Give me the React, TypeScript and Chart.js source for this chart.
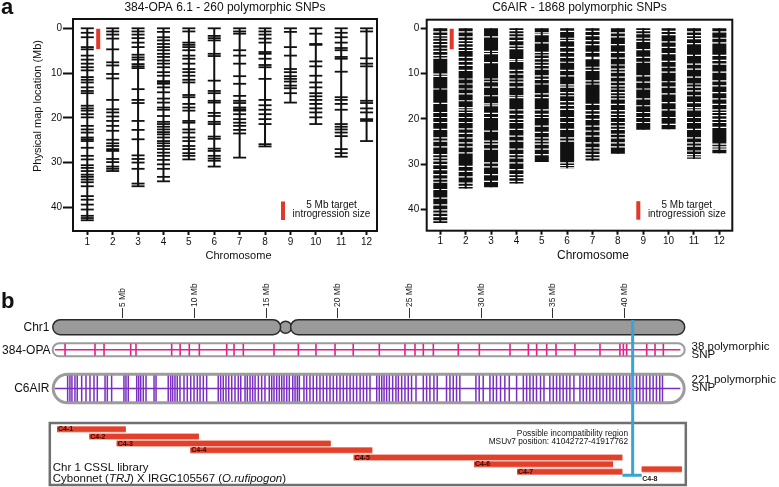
import React, { useEffect, useRef } from "react";
import { Chart, registerables } from "chart.js";

Chart.register(...registerables);

const FONT = "'Liberation Sans', Arial, Helvetica, sans-serif";
const INK = "#111111";
const TARGET_RED = "#e2382a";
const CSSL_RED = "#e3402c";
const CSSL_EDGE = "#f19a8c";
const OPA_MAGENTA = "#e0218a";
const C6AIR_PURPLE = "#7a2fc0";
const MARKER_BLUE = "#38a3d6";
const CAPSULE_GREY = "#9c9c9c";

// ---------------- Panel a ----------------
const CHROMOSOMES = [1, 2, 3, 4, 5, 6, 7, 8, 9, 10, 11, 12];
const MAP_TICKS_MB = [0, 10, 20, 30, 40];
const TARGET_SPAN_MB = [0.1, 4.6];

// 384-OPA 6.1 polymorphic SNP positions (Mb) per chromosome
const OPA_CHR1 = [0, 1.0, 2.0, 4.2, 4.7, 6.1, 7.0, 7.9, 8.7, 9.4, 10.9, 11.5, 12.1, 13.2, 14.0, 14.5, 17.3, 17.9, 18.4, 19.2, 19.9, 21.8, 22.6, 23.3, 24.4, 24.8, 25.2, 26.7, 28.5, 29.3, 30.6, 31.2, 31.9, 32.7, 33.2, 33.8, 34.4, 35.3, 37.5, 38.3, 39.4, 40.5, 41.9, 42.4, 42.9];
const OPA_CHR2 = [0, 0.7, 1.4, 2.3, 4.7, 7.6, 8.3, 10.2, 11.2, 16.0, 18.1, 18.8, 19.7, 20.7, 21.8, 22.9, 24.9, 25.7, 26.3, 27.0, 27.4, 29.2, 29.9, 30.9, 31.4, 31.9];
const OPA_CHR3 = [0, 0.7, 1.4, 2.2, 3.2, 4.2, 5.9, 6.5, 7.0, 8.0, 8.5, 8.9, 13.6, 16.0, 16.7, 20.7, 22.7, 24.8, 28.4, 29.2, 30.0, 31.4, 34.7, 35.3];
const OPA_CHR4 = [0, 0.8, 2.0, 2.7, 3.5, 4.2, 4.9, 5.7, 6.4, 7.2, 7.9, 8.7, 9.8, 10.6, 11.8, 12.0, 12.4, 13.2, 14.3, 15.7, 16.6, 17.7, 18.2, 19.6, 20.9, 21.4, 22.0, 22.6, 23.2, 23.7, 24.4, 25.2, 25.7, 26.3, 27.0, 27.8, 28.5, 29.4, 30.4, 31.4, 33.2, 34.2];
const OPA_CHR5 = [0, 0.7, 3.2, 3.7, 4.2, 4.9, 6.1, 6.8, 7.9, 9.1, 9.8, 10.6, 11.5, 12.1, 14.9, 15.4, 16.9, 17.7, 18.4, 20.7, 21.1, 22.6, 23.3, 24.4, 25.2, 26.3, 27.0, 27.9, 28.5, 29.3];
const OPA_CHR6 = [0, 1.7, 2.2, 2.7, 5.7, 6.2, 11.7, 14.0, 14.5, 16.2, 16.6, 18.9, 19.6, 20.9, 21.4, 24.2, 24.7, 26.9, 27.4, 28.5, 29.1, 29.6, 30.9];
const OPA_CHR7 = [0, 0.7, 1.2, 4.9, 6.1, 7.9, 10.7, 12.4, 15.1, 16.2, 16.7, 17.7, 18.1, 18.4, 19.2, 20.3, 21.1, 21.8, 22.7, 23.5, 28.9];
const OPA_CHR8 = [0, 0.7, 1.4, 2.3, 3.2, 5.3, 5.7, 6.8, 8.2, 8.7, 11.3, 16.0, 17.2, 18.2, 19.2, 20.3, 21.4, 25.9, 26.4];
const OPA_CHR9 = [0, 0.8, 4.2, 6.1, 9.1, 9.8, 10.7, 11.3, 11.9, 12.8, 13.4, 14.5, 16.6];
const OPA_CHR10 = [0, 1.2, 3.5, 3.7, 7.4, 8.5, 10.6, 12.1, 13.2, 14.5, 15.2, 16.0, 16.9, 17.9, 18.8, 19.9, 21.4];
const OPA_CHR11 = [0, 1.0, 2.0, 3.2, 4.4, 4.9, 6.4, 6.8, 9.7, 15.4, 16.0, 16.9, 18.2, 21.4, 22.0, 22.6, 23.3, 24.1, 27.0, 27.9, 28.7];
const OPA_CHR12 = [0, 0.7, 6.7, 7.9, 8.5, 16.2, 16.7, 17.9, 18.8, 20.3, 20.7, 25.2];
const OPA_SNPS = [OPA_CHR1, OPA_CHR2, OPA_CHR3, OPA_CHR4, OPA_CHR5, OPA_CHR6, OPA_CHR7, OPA_CHR8, OPA_CHR9, OPA_CHR10, OPA_CHR11, OPA_CHR12];

// C6AIR: SNPs are so dense that each chromosome reads as a solid block;
// the block ends and the SNP-free gaps (white stripes) are listed.
const C6AIR_END_MB = [43.0, 35.4, 35.1, 34.3, 29.5, 30.9, 29.2, 27.7, 22.4, 22.3, 28.8, 27.6];
const C6AIR_GAPS_CHR1 = [0.8, 1.6, 2.2, 2.9, 3.6, 4.4, 5.1, 6.0, 6.6, 10.1, 10.6, 13.4, 16.6, 18.6, 19.7, 20.8, 22.3, 24.2, 24.9, 26.2, 27.9, 28.6, 29.3, 30.1, 31.2, 32.3, 33.3, 34.0, 35.6, 37.5, 39.0, 40.1, 40.8, 41.6, 42.5];
const C6AIR_GAPS_CHR2 = [0.8, 1.9, 2.7, 3.4, 4.2, 4.9, 6.4, 7.3, 8.2, 9.3, 11.2, 12.3, 13.4, 14.5, 16.0, 17.5, 18.0, 18.6, 19.7, 20.8, 22.2, 23.2, 24.2, 25.3, 26.2, 27.5, 30.5, 31.6, 32.8, 34.2, 34.9];
const C6AIR_GAPS_CHR3 = [1.9, 5.1, 5.6, 7.6, 11.2, 11.8, 13.0, 14.9, 16.7, 17.1, 18.8, 19.7, 22.7, 24.9, 25.6, 26.7, 29.7, 30.6, 32.3, 33.8];
const C6AIR_GAPS_CHR4 = [0.5, 1.2, 1.9, 2.7, 3.9, 4.5, 6.9, 7.3, 9.3, 10.1, 11.2, 11.9, 13.0, 14.9, 15.3, 18.0, 19.0, 20.1, 20.8, 22.3, 23.8, 24.9, 26.7, 27.9, 28.6, 29.7, 31.2, 32.3, 33.0, 33.8];
const C6AIR_GAPS_CHR5 = [1.0, 1.4, 3.2, 5.3, 5.9, 6.7, 7.5, 8.2, 9.0, 10.5, 11.3, 12.3, 14.5, 15.3, 18.0, 19.0, 19.7, 21.6, 23.0, 24.2, 24.9, 25.6, 26.7, 27.9];
const C6AIR_GAPS_CHR6 = [0.7, 2.2, 2.7, 4.2, 5.3, 6.4, 7.5, 9.3, 10.5, 12.5, 13.0, 14.2, 14.9, 16.2, 17.0, 17.9, 19.7, 20.8, 22.3, 24.2, 24.9, 29.7, 30.3, 30.8];
const C6AIR_GAPS_CHR7 = [0.7, 1.6, 2.7, 3.6, 5.3, 6.4, 6.7, 8.6, 9.3, 11.6, 12.3, 16.8, 18.2, 19.0, 20.1, 21.6, 22.7, 23.8, 25.3, 26.4, 27.1, 27.9, 28.6];
const C6AIR_GAPS_CHR8 = [1.0, 1.9, 3.6, 5.3, 6.6, 8.1, 9.0, 9.7, 10.8, 11.9, 12.7, 13.4, 14.2, 14.9, 15.6, 16.8, 18.2, 19.0, 19.7, 20.8, 21.6, 22.3, 23.4, 24.2, 25.3, 26.2];
const C6AIR_GAPS_CHR9 = [0.5, 1.2, 2.2, 2.9, 4.7, 6.4, 7.5, 10.5, 11.9, 13.4, 15.6, 17.1, 18.6, 19.7, 20.8];
const C6AIR_GAPS_CHR10 = [0.7, 1.4, 3.0, 4.2, 5.6, 7.3, 8.6, 9.7, 11.8, 13.0, 14.5, 16.4, 18.0, 19.7, 21.2];
const C6AIR_GAPS_CHR11 = [0.8, 1.6, 2.3, 3.4, 6.0, 7.9, 9.0, 10.8, 12.3, 13.0, 13.8, 14.9, 16.4, 17.5, 18.0, 19.7, 20.8, 22.3, 24.2, 25.3, 26.0, 27.1, 27.9, 28.4];
const C6AIR_GAPS_CHR12 = [0.8, 2.2, 3.2, 6.0, 7.1, 7.9, 9.7, 11.6, 12.7, 14.2, 15.6, 16.8, 18.0, 18.6, 19.3, 20.1, 20.8, 21.9, 25.6, 26.2, 26.7];
const C6AIR_GAPS = [C6AIR_GAPS_CHR1, C6AIR_GAPS_CHR2, C6AIR_GAPS_CHR3, C6AIR_GAPS_CHR4, C6AIR_GAPS_CHR5, C6AIR_GAPS_CHR6, C6AIR_GAPS_CHR7, C6AIR_GAPS_CHR8, C6AIR_GAPS_CHR9, C6AIR_GAPS_CHR10, C6AIR_GAPS_CHR11, C6AIR_GAPS_CHR12];

// ---------------- Panel b ----------------
const CHR1_LENGTH_MB = 44.2;
const CHR1_CENTROMERE_MB = 16.35;
const MB_TICKS = [5, 10, 15, 20, 25, 30, 35, 40];
const SNP_TRACK_SPAN_MB = [0.25, 43.9];
const OPA_CHR1_SNPS_MB = [0.96, 3.05, 3.68, 5.54, 5.91, 8.4, 8.99, 9.63, 10.33, 12.24, 12.75, 13.4, 15.54, 17.24, 18.47, 19.8, 21.07, 22.89, 24.68, 25.38, 25.96, 26.66, 28.4, 29.87, 32.01, 33.29, 33.87, 34.57, 35.22, 36.54, 38.29, 39.68, 39.92, 40.15, 41.55, 42.13, 42.71];
const C6AIR_CHR1_SNPS_MB = [
  1.14, 1.3, 1.44, 1.65, 1.81, 2.12, 2.42, 2.7, 2.98, 3.21, 3.75, 3.91, 4.21, 5.07, 5.21, 5.37,
  5.96, 6.1, 6.24, 6.42, 6.61, 7.17, 7.31, 8.16, 8.33, 8.47, 8.63, 8.79, 8.98,
  9.26, 9.49, 9.73, 9.96, 10.19, 10.38, 10.61, 10.84, 11.65, 11.82, 12.0, 12.19, 12.38, 12.59, 12.82, 13.05, 13.22,
  13.52, 13.68, 13.87, 14.05, 14.22, 14.45, 14.68, 14.91, 15.21, 15.38, 15.54, 15.73, 15.91, 16.08, 16.24, 16.43, 16.61, 16.85, 17.01, 17.17, 17.31,
  17.63, 17.82, 18.05, 18.28, 18.52, 18.75, 18.98, 19.22, 19.45, 19.68, 19.92, 20.15, 20.38, 20.62, 20.85, 21.08, 21.31, 21.55, 21.78, 22.01, 22.24,
  22.71, 22.89, 23.06, 23.22, 23.4, 23.59, 23.82, 24.05, 24.22, 24.45, 24.68, 24.91, 25.14, 25.45, 25.96, 26.19, 26.42, 26.7, 26.93,
  27.58, 27.82, 28.05, 28.28, 28.51, 29.63, 29.86, 30.14, 30.61, 30.84, 31.07, 31.35, 31.65, 31.96, 32.47,
  32.94, 33.17, 33.4, 33.63, 33.86, 34.14, 34.38, 34.79, 35.03, 35.26, 35.49, 35.72, 35.96, 36.19, 36.47,
  36.89, 37.12, 37.35, 37.58, 37.82, 38.05, 38.28, 38.51, 38.75, 38.98, 39.21, 39.44, 39.67, 39.91, 40.14, 40.37, 40.6, 40.84, 41.07, 41.3, 41.53, 41.77, 42.0, 42.23, 42.46, 42.65,
];
const CSSL_LINES = ["C4-1", "C4-2", "C4-3", "C4-4", "C4-5", "C4-6", "C4-7", "C4-8"];
const CSSL_START_MB = [0.4, 2.65, 4.56, 9.7, 21.1, 29.5, 32.5, 41.2];
const CSSL_END_MB = [5.2, 10.3, 19.5, 22.4, 39.85, 39.2, 39.85, 44.0];
const INCOMPAT_MB = 40.57;
const INCOMPAT_BRACKET_MB = [39.85, 41.2];

// ---------------- layout (not data) ----------------
const C_TOP = 280; // page y of the bottom canvas
const ROW = {
  chr1: 9.2,
  opa: 31.8,
  c6air: 70.5,
  markerTop: 2,
  markerBottom: 157.3,
  cssl: [111.2, 118.5, 125.5, 132.2, 139.5, 146.2, 153.7, 151.2],
};

function genomePanel(p: any) {
  const decor = {
    id: "panelDecor",
    afterDraw(chart: any) {
      const { ctx, chartArea: a } = chart;
      ctx.save();
      ctx.strokeStyle = INK;
      ctx.lineWidth = 2;
      ctx.strokeRect(a.left, a.top, a.right - a.left, a.bottom - a.top);
      ctx.fillStyle = INK;
      ctx.textAlign = "center";
      ctx.textBaseline = "middle";
      ctx.font = `12px ${FONT}`;
      ctx.fillText(p.title, (a.left + a.right) / 2, 7.5);
      ctx.font = `${p.xTitleSize}px ${FONT}`;
      ctx.fillText("Chromosome", (a.left + a.right) / 2 + 13.5, 256);
      if (p.yTitle) {
        ctx.save();
        ctx.translate(38, 106);
        ctx.rotate(-Math.PI / 2);
        ctx.font = `11px ${FONT}`;
        ctx.fillText(p.yTitle, 0, 0);
        ctx.restore();
      }
      ctx.fillStyle = TARGET_RED;
      ctx.fillRect(a.right - 96, a.bottom - 29.5, 4, 18.5);
      ctx.fillStyle = INK;
      ctx.font = `10px ${FONT}`;
      ctx.fillText("5 Mb target", a.right - 45.5, a.bottom - 25.3);
      ctx.fillText("introgression size", a.right - 45.5, a.bottom - 16.7);
      if (p.letter) {
        ctx.font = `bold 22px ${FONT}`;
        ctx.textAlign = "left";
        ctx.textBaseline = "alphabetic";
        ctx.fillText(p.letter, 1, 13.5);
      }
      ctx.restore();
    },
  };
  return {
    type: "scatter",
    data: { datasets: p.datasets },
    options: {
      responsive: false,
      animation: false,
      devicePixelRatio: 1,
      events: [],
      layout: { padding: p.padding, autoPadding: false },
      plugins: { legend: { display: false }, tooltip: { enabled: false } },
      scales: {
        x: {
          type: "linear",
          min: p.xMin,
          max: p.xMax,
          afterBuildTicks: (s: any) => {
            s.ticks = CHROMOSOMES.map((v) => ({ value: v }));
          },
          afterFit: (s: any) => {
            s.height = p.xHeight;
          },
          border: { display: false },
          grid: { drawOnChartArea: false, drawTicks: true, tickLength: 4, tickWidth: 2, tickColor: INK },
          ticks: { autoSkip: false, maxRotation: 0, padding: 1, color: INK, font: { family: FONT, size: 10 } },
        },
        y: {
          type: "linear",
          reverse: true,
          min: p.yMin,
          max: p.yMax,
          afterBuildTicks: (s: any) => {
            s.ticks = MAP_TICKS_MB.map((v) => ({ value: v }));
          },
          afterFit: (s: any) => {
            s.width = p.yWidth;
          },
          border: { display: false },
          grid: { drawOnChartArea: false, drawTicks: true, tickLength: p.yTickLen, tickWidth: 2, tickColor: INK },
          ticks: { padding: p.yTickPad, color: INK, font: { family: FONT, size: 10 } },
        },
      },
    },
    plugins: [decor],
  };
}

function targetDataset(x: number) {
  return {
    data: [
      { x, y: TARGET_SPAN_MB[0] },
      { x, y: TARGET_SPAN_MB[1] },
    ],
    showLine: true,
    borderColor: TARGET_RED,
    borderWidth: 4,
    pointRadius: 0,
    order: 0,
  };
}

function configA() {
  const spines = CHROMOSOMES.map((c, i) => ({
    data: [
      { x: c, y: Math.min(...OPA_SNPS[i]) },
      { x: c, y: Math.max(...OPA_SNPS[i]) },
    ],
    showLine: true,
    borderColor: INK,
    borderWidth: 2,
    pointRadius: 0,
    order: 3,
  }));
  const ticks = {
    data: OPA_SNPS.flatMap((arr, i) => arr.map((y) => ({ x: CHROMOSOMES[i], y }))),
    pointStyle: "line",
    pointRadius: 6.5,
    pointBorderWidth: 1.8,
    pointBorderColor: INK,
    order: 2,
  };
  return genomePanel({
    title: "384-OPA 6.1 - 260 polymorphic SNPs",
    letter: "a",
    yTitle: "Physical map location (Mb)",
    xTitleSize: 11,
    padding: { left: 0, right: 13, top: 19, bottom: 0 },
    yWidth: 73,
    xHeight: 69,
    xMin: 0.437,
    xMax: 12.41,
    yMin: -2.08,
    yMax: 45.3,
    yTickLen: 10,
    yTickPad: 1,
    datasets: [targetDataset(1.43), ticks, ...spines],
  });
}

function configB() {
  const blocks = CHROMOSOMES.map((c, i) => ({
    data: [
      { x: c, y: 0 },
      { x: c, y: C6AIR_END_MB[i] },
    ],
    showLine: true,
    borderColor: INK,
    borderWidth: 14,
    pointRadius: 0,
    order: 4,
  }));
  const gaps = {
    data: C6AIR_GAPS.flatMap((arr, i) => arr.map((y) => ({ x: CHROMOSOMES[i], y }))),
    pointStyle: "line",
    pointRadius: 7.5,
    pointBorderWidth: 1.2,
    pointBorderColor: "#ffffff",
    order: 3,
  };
  const spines = CHROMOSOMES.map((c, i) => ({
    data: [
      { x: c, y: 0 },
      { x: c, y: C6AIR_END_MB[i] },
    ],
    showLine: true,
    borderColor: INK,
    borderWidth: 2,
    pointRadius: 0,
    order: 2,
  }));
  return genomePanel({
    title: "C6AIR - 1868 polymorphic SNPs",
    xTitleSize: 12,
    padding: { left: 0, right: 46.7, top: 19.7, bottom: 0 },
    yWidth: 36.7,
    xHeight: 69.3,
    xMin: 0.464,
    xMax: 12.51,
    yMin: -1.9,
    yMax: 44.7,
    yTickLen: 6,
    yTickPad: 1.5,
    datasets: [targetDataset(1.45), ...spines, gaps, ...blocks],
  });
}

function capsulePath(ctx: any, x0: number, x1: number, yc: number, h: number) {
  const r = h / 2;
  ctx.beginPath();
  ctx.moveTo(x0 + r, yc - r);
  ctx.lineTo(x1 - r, yc - r);
  ctx.arc(x1 - r, yc, r, -Math.PI / 2, Math.PI / 2);
  ctx.lineTo(x0 + r, yc + r);
  ctx.arc(x0 + r, yc, r, Math.PI / 2, (3 * Math.PI) / 2);
  ctx.closePath();
}

function configC() {
  const line = (pts: any[], color: string, width: number, order: number) => ({
    data: pts,
    showLine: true,
    borderColor: color,
    borderWidth: width,
    pointRadius: 0,
    order,
  });
  const datasets: any[] = [
    line(
      [
        { x: INCOMPAT_MB, y: ROW.markerTop },
        { x: INCOMPAT_MB, y: ROW.markerBottom },
      ],
      MARKER_BLUE,
      3,
      0
    ),
    line(
      [
        { x: INCOMPAT_BRACKET_MB[0], y: ROW.markerBottom },
        { x: INCOMPAT_BRACKET_MB[1], y: ROW.markerBottom },
      ],
      MARKER_BLUE,
      3,
      0
    ),
    ...CSSL_LINES.map((_, i) =>
      line(
        [
          { x: CSSL_START_MB[i], y: ROW.cssl[i] },
          { x: CSSL_END_MB[i], y: ROW.cssl[i] },
        ],
        CSSL_RED,
        5,
        1
      )
    ),
    ...CSSL_LINES.map((_, i) =>
      line(
        [
          { x: CSSL_START_MB[i], y: ROW.cssl[i] },
          { x: CSSL_END_MB[i], y: ROW.cssl[i] },
        ],
        CSSL_EDGE,
        6.5,
        2
      )
    ),
    {
      data: OPA_CHR1_SNPS_MB.map((x) => ({ x, y: ROW.opa })),
      pointStyle: "line",
      pointRotation: 90,
      pointRadius: 6,
      pointBorderWidth: 1.6,
      pointBorderColor: OPA_MAGENTA,
      order: 3,
    },
    {
      data: C6AIR_CHR1_SNPS_MB.map((x) => ({ x, y: ROW.c6air })),
      pointStyle: "line",
      pointRotation: 90,
      pointRadius: 13,
      pointBorderWidth: 1.5,
      pointBorderColor: C6AIR_PURPLE,
      order: 3,
    },
    line(
      [
        { x: SNP_TRACK_SPAN_MB[0], y: ROW.opa },
        { x: SNP_TRACK_SPAN_MB[1], y: ROW.opa },
      ],
      OPA_MAGENTA,
      1.5,
      4
    ),
    line(
      [
        { x: SNP_TRACK_SPAN_MB[0], y: ROW.c6air },
        { x: SNP_TRACK_SPAN_MB[1], y: ROW.c6air },
      ],
      C6AIR_PURPLE,
      1.5,
      4
    ),
  ];

  const xMax = 44.4;
  const pxPerMb = 14.33;
  const leftPad = 51.3;
  const tickFontSize = 8.5;

  const decor = {
    id: "mapDecor",
    beforeDatasetsDraw(chart: any) {
      const { ctx } = chart;
      const xs = chart.scales.x;
      const ys = chart.scales.y;
      const x0 = xs.getPixelForValue(0);
      const x1 = xs.getPixelForValue(CHR1_LENGTH_MB);
      const xc = xs.getPixelForValue(CHR1_CENTROMERE_MB);
      ctx.save();
      // chromosome 1 ideogram
      const yc = ys.getPixelForValue(ROW.chr1);
      ctx.fillStyle = "#9a9a9a";
      ctx.strokeStyle = "#2a2a2a";
      ctx.lineWidth = 1.5;
      ctx.beginPath();
      ctx.arc(xc, yc, 6, 0, Math.PI * 2);
      ctx.fill();
      ctx.stroke();
      capsulePath(ctx, x0 + 1.5, xc - 5, yc, 15);
      ctx.fill();
      ctx.stroke();
      capsulePath(ctx, xc + 5, x1, yc, 15);
      ctx.fill();
      ctx.stroke();
      // SNP track capsules
      ctx.strokeStyle = CAPSULE_GREY;
      ctx.fillStyle = "#ffffff";
      ctx.lineWidth = 2;
      capsulePath(ctx, x0 + 1.4, x1, ys.getPixelForValue(ROW.opa), 13);
      ctx.fill();
      ctx.stroke();
      ctx.lineWidth = 3;
      capsulePath(ctx, x0 + 1.9, x1 - 0.5, ys.getPixelForValue(ROW.c6air), 28.6);
      ctx.fill();
      ctx.stroke();
      // CSSL library frame
      ctx.strokeStyle = "#707070";
      ctx.lineWidth = 2.5;
      ctx.strokeRect(49.8, 423 - C_TOP, 636, 62);
      ctx.restore();
    },
    afterDatasetsDraw(chart: any) {
      const { ctx } = chart;
      const xs = chart.scales.x;
      const ys = chart.scales.y;
      ctx.save();
      ctx.fillStyle = INK;
      ctx.textBaseline = "middle";
      // track labels
      ctx.font = `12px ${FONT}`;
      ctx.textAlign = "right";
      ctx.fillText("Chr1", 49.5, 327.3 - C_TOP);
      ctx.fillText("384-OPA", 50.5, 351 - C_TOP);
      ctx.fillText("C6AIR", 49.5, 389 - C_TOP);
      ctx.textAlign = "left";
      ctx.font = `11.5px ${FONT}`;
      ctx.fillText("38 polymorphic", 691.5, 347 - C_TOP);
      ctx.fillText("SNP", 691.5, 354.5 - C_TOP);
      ctx.fillText("221 polymorphic", 691.5, 380 - C_TOP);
      ctx.fillText("SNP", 691.5, 387.5 - C_TOP);
      // CSSL labels
      ctx.font = `bold 7px ${FONT}`;
      ctx.fillStyle = "#2a0d06";
      CSSL_LINES.forEach((name, i) => {
        if (i === CSSL_LINES.length - 1) {
          ctx.fillText(name, xs.getPixelForValue(CSSL_START_MB[i]) + 0.5, 479.5 - C_TOP);
        } else {
          ctx.fillText(name, xs.getPixelForValue(CSSL_START_MB[i]) + 1, ys.getPixelForValue(ROW.cssl[i]) + 0.3);
        }
      });
      // incompatibility note
      ctx.fillStyle = INK;
      ctx.textAlign = "right";
      ctx.font = `8.3px ${FONT}`;
      ctx.fillText("Possible incompatibility region", 628, 433.5 - C_TOP);
      ctx.fillText("MSUv7 position: 41042727-41917762", 628, 441.7 - C_TOP);
      // library caption
      ctx.textAlign = "left";
      ctx.font = `11.5px ${FONT}`;
      ctx.fillText("Chr 1 CSSL library", 52.7, 467.5 - C_TOP);
      const parts: [string, boolean][] = [
        ["Cybonnet (", false],
        ["TRJ", true],
        [") X IRGC105567 (", false],
        ["O.rufipogon", true],
        [")", false],
      ];
      let x = 52.7;
      parts.forEach(([t, it]) => {
        ctx.font = `${it ? "italic " : ""}11.5px ${FONT}`;
        ctx.fillText(t, x, 478.5 - C_TOP);
        x += ctx.measureText(t).width;
      });
      // panel letter
      ctx.font = `bold 22px ${FONT}`;
      ctx.textBaseline = "alphabetic";
      ctx.fillText("b", 1, 308.3 - C_TOP);
      ctx.restore();
    },
  };

  return {
    type: "scatter",
    data: { datasets },
    options: {
      responsive: false,
      animation: false,
      devicePixelRatio: 1,
      events: [],
      layout: {
        autoPadding: false,
        padding: { left: leftPad, right: 779 - (leftPad + xMax * pxPerMb), top: 0, bottom: 0 },
      },
      plugins: { legend: { display: false }, tooltip: { enabled: false } },
      scales: {
        x: {
          type: "linear",
          position: "top",
          min: 0,
          max: xMax,
          afterBuildTicks: (s: any) => {
            s.ticks = MB_TICKS.map((v) => ({ value: v }));
          },
          afterFit: (s: any) => {
            s.height = 38;
          },
          border: { display: false },
          grid: { drawOnChartArea: false, drawTicks: true, tickLength: 10, tickWidth: 1, tickColor: "#333" },
          ticks: {
            autoSkip: false,
            minRotation: 90,
            maxRotation: 90,
            padding: 1,
            labelOffset: tickFontSize * 1.2,
            color: "#222",
            font: { family: FONT, size: tickFontSize },
            callback: (v: any) => `${v} Mb`,
          },
        },
        y: { type: "linear", display: false, reverse: true, min: 0, max: 487 - 318 },
      },
    },
    plugins: [decor],
  };
}

export default function App() {
  const refA = useRef<HTMLCanvasElement>(null);
  const refB = useRef<HTMLCanvasElement>(null);
  const refC = useRef<HTMLCanvasElement>(null);

  useEffect(() => {
    const charts = [
      new Chart(refA.current as any, configA() as any),
      new Chart(refB.current as any, configB() as any),
      new Chart(refC.current as any, configC() as any),
    ];
    return () => charts.forEach((c) => c.destroy());
  }, []);

  return (
    <div
      style={{
        position: "fixed",
        left: 0,
        top: 0,
        width: 779,
        height: 487,
        background: "#ffffff",
        overflow: "hidden",
      }}
    >
      <canvas ref={refA} width={390} height={300} style={{ position: "absolute", left: 0, top: 0 }} />
      <canvas ref={refB} width={389} height={300} style={{ position: "absolute", left: 390, top: 0 }} />
      <canvas ref={refC} width={779} height={207} style={{ position: "absolute", left: 0, top: 280 }} />
    </div>
  );
}
